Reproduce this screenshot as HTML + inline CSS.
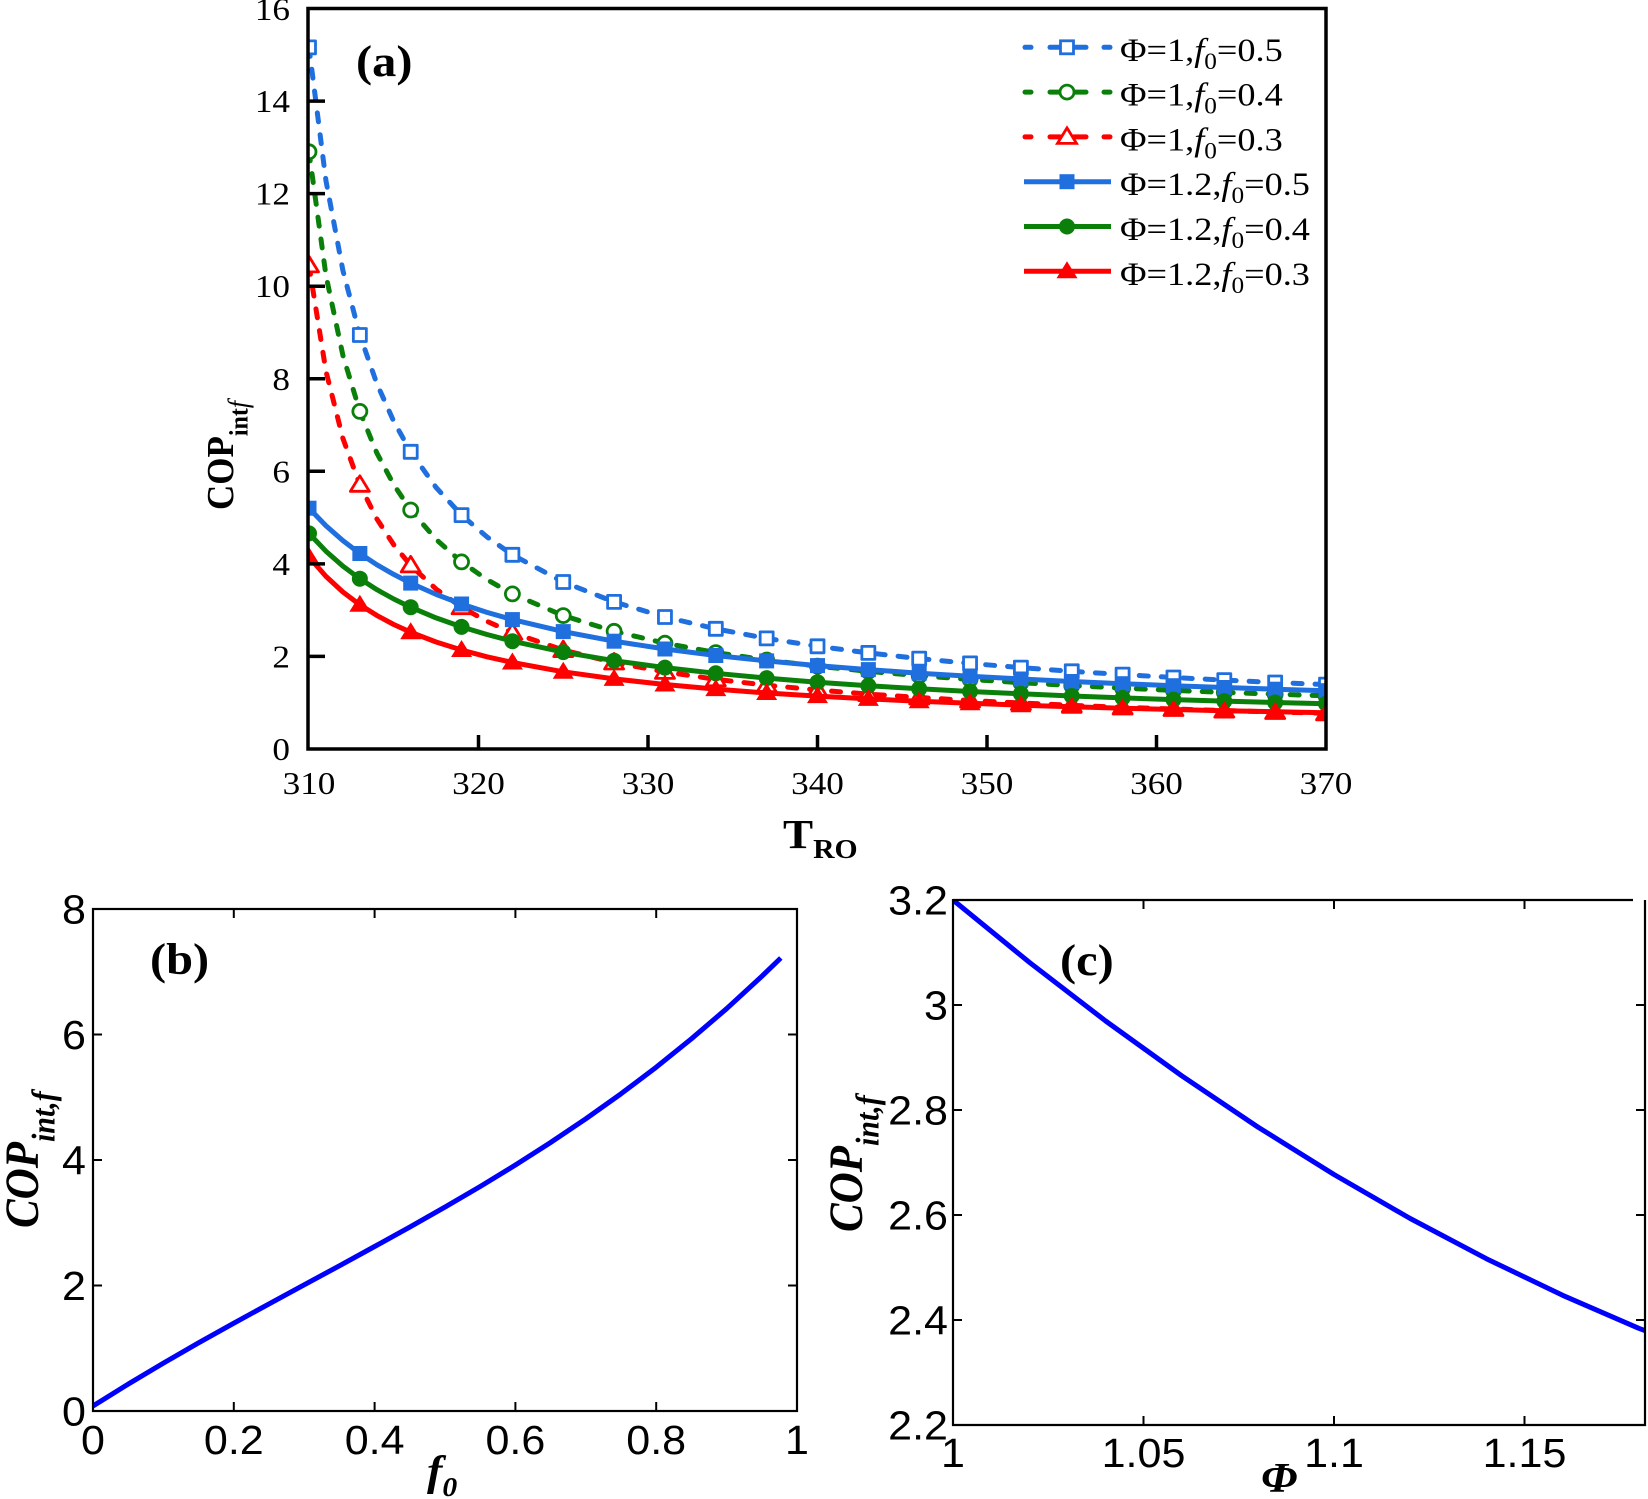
<!DOCTYPE html>
<html><head><meta charset="utf-8"><style>
html,body{margin:0;padding:0;background:#fff;}
svg{display:block;}
.tk{font-family:"Liberation Serif",serif;font-size:32px;fill:#000}
.lg{font-family:"Liberation Serif",serif;font-size:33px;fill:#000}
.sn{font-family:"Liberation Sans",sans-serif;font-size:41px;fill:#000}
.bs{font-family:"Liberation Serif",serif;font-weight:bold;fill:#000}
</style></head><body>
<svg width="1648" height="1499" viewBox="0 0 1648 1499" xmlns="http://www.w3.org/2000/svg">
<rect x="0" y="0" width="1648" height="1499" fill="#fff"/>
<defs>
<clipPath id="ca"><rect x="308" y="8.5" width="1018" height="740.5"/></clipPath>
<clipPath id="cb"><rect x="93" y="909" width="704" height="502"/></clipPath>
<clipPath id="cc"><rect x="953" y="900" width="692" height="525"/></clipPath>
<g id="sqO"><rect x="-6.5" y="-6.5" width="13" height="13" fill="#fff" stroke-width="2.8"/></g>
<g id="ciO"><circle cx="0" cy="0" r="7" fill="#fff" stroke-width="2.8"/></g>
<g id="trO"><polygon points="0,-9 9.5,6.5 -9.5,6.5" fill="#fff" stroke-width="2.8"/></g>
<g id="sqF"><rect x="-7.5" y="-7.5" width="15" height="15" stroke="none"/></g>
<g id="ciF"><circle cx="0" cy="0" r="8" stroke="none"/></g>
<g id="trF"><polygon points="0,-10 10.5,7 -10.5,7" stroke="none"/></g>
</defs>

<!-- ===== Panel (a) ===== -->
<g clip-path="url(#ca)" fill="none" stroke-width="5" stroke-linejoin="round">
<polyline stroke="#1f6fde" stroke-dasharray="9 13" stroke-linecap="round" points="309,47.4 325.95,180.7 342.9,270.5 359.85,335 376.8,383.5 393.75,421.4 410.7,451.8 436.1,487.5 461.55,515.1 486.98,536.9 512.4,554.8 563.25,582 614.1,601.9 664.95,617 715.8,628.8 766.65,638.4 817.5,646.3 868.35,652.9 919.2,658.6 970.05,663.4 1020.9,667.6 1071.75,671.3 1122.6,674.6 1173.45,677.5 1224.3,680.1 1275.15,682.5 1326,684.6"/>
<g stroke="#1f6fde">
<use href="#sqO" x="309" y="47.4"/><use href="#sqO" x="359.85" y="335"/><use href="#sqO" x="410.7" y="451.8"/><use href="#sqO" x="461.55" y="515.1"/><use href="#sqO" x="512.4" y="554.8"/><use href="#sqO" x="563.25" y="582"/><use href="#sqO" x="614.1" y="601.9"/><use href="#sqO" x="664.95" y="617"/><use href="#sqO" x="715.8" y="628.8"/><use href="#sqO" x="766.65" y="638.4"/><use href="#sqO" x="817.5" y="646.3"/><use href="#sqO" x="868.35" y="652.9"/><use href="#sqO" x="919.2" y="658.6"/><use href="#sqO" x="970.05" y="663.4"/><use href="#sqO" x="1020.9" y="667.6"/><use href="#sqO" x="1071.75" y="671.3"/><use href="#sqO" x="1122.6" y="674.6"/><use href="#sqO" x="1173.45" y="677.5"/><use href="#sqO" x="1224.3" y="680.1"/><use href="#sqO" x="1275.15" y="682.5"/><use href="#sqO" x="1326" y="684.6"/>
</g>
<polyline stroke="#0a800a" stroke-dasharray="9 13" stroke-linecap="round" points="309,151.8 325.95,275.4 342.9,355.4 359.85,411.4 376.8,452.9 393.75,484.7 410.7,510 436.1,539.4 461.55,561.9 486.98,579.6 512.4,593.9 563.25,615.6 614.1,631.3 664.95,643.2 715.8,652.6 766.65,660 817.5,666.2 868.35,671.3 919.2,675.7 970.05,679.4 1020.9,682.7 1071.75,685.6 1122.6,688.1 1173.45,690.4 1224.3,692.4 1275.15,694.2 1326,695.8"/>
<g stroke="#0a800a">
<use href="#ciO" x="309" y="151.8"/><use href="#ciO" x="359.85" y="411.4"/><use href="#ciO" x="410.7" y="510"/><use href="#ciO" x="461.55" y="561.9"/><use href="#ciO" x="512.4" y="593.9"/><use href="#ciO" x="563.25" y="615.6"/><use href="#ciO" x="614.1" y="631.3"/><use href="#ciO" x="664.95" y="643.2"/><use href="#ciO" x="715.8" y="652.6"/><use href="#ciO" x="766.65" y="660"/><use href="#ciO" x="817.5" y="666.2"/><use href="#ciO" x="868.35" y="671.3"/><use href="#ciO" x="919.2" y="675.7"/><use href="#ciO" x="970.05" y="679.4"/><use href="#ciO" x="1020.9" y="682.7"/><use href="#ciO" x="1071.75" y="685.6"/><use href="#ciO" x="1122.6" y="688.1"/><use href="#ciO" x="1173.45" y="690.4"/><use href="#ciO" x="1224.3" y="692.4"/><use href="#ciO" x="1275.15" y="694.2"/><use href="#ciO" x="1326" y="695.8"/>
</g>
<polyline stroke="#ff0000" stroke-dasharray="9 13" stroke-linecap="round" points="309,265.4 325.95,371.2 342.9,438.4 359.85,484.8 376.8,518.8 393.75,544.8 410.7,565.4 436.1,589.1 461.55,607.2 486.98,621.3 512.4,632.7 563.25,650.1 614.1,662.5 664.95,671.9 715.8,679.3 766.65,685.2 817.5,690 868.35,694.1 919.2,697.5 970.05,700.5 1020.9,703 1071.75,705.3 1122.6,707.3 1173.45,709 1224.3,710.6 1275.15,712 1326,713.3"/>
<g stroke="#ff0000">
<use href="#trO" x="309" y="265.4"/><use href="#trO" x="359.85" y="484.8"/><use href="#trO" x="410.7" y="565.4"/><use href="#trO" x="461.55" y="607.2"/><use href="#trO" x="512.4" y="632.7"/><use href="#trO" x="563.25" y="650.1"/><use href="#trO" x="614.1" y="662.5"/><use href="#trO" x="664.95" y="671.9"/><use href="#trO" x="715.8" y="679.3"/><use href="#trO" x="766.65" y="685.2"/><use href="#trO" x="817.5" y="690"/><use href="#trO" x="868.35" y="694.1"/><use href="#trO" x="919.2" y="697.5"/><use href="#trO" x="970.05" y="700.5"/><use href="#trO" x="1020.9" y="703"/><use href="#trO" x="1071.75" y="705.3"/><use href="#trO" x="1122.6" y="707.3"/><use href="#trO" x="1173.45" y="709"/><use href="#trO" x="1224.3" y="710.6"/><use href="#trO" x="1275.15" y="712"/><use href="#trO" x="1326" y="713.3"/>
</g>
<polyline stroke="#1f6fde" points="309,508.2 325.95,525.7 342.9,540.6 359.85,553.5 376.8,564.7 393.75,574.4 410.7,583.1 436.1,594.4 461.55,604 486.98,612.4 512.4,619.6 563.25,631.6 614.1,641.2 664.95,649 715.8,655.5 766.65,660.9 817.5,665.6 868.35,669.6 919.2,673.2 970.05,676.3 1020.9,679 1071.75,681.5 1122.6,683.7 1173.45,685.7 1224.3,687.5 1275.15,689.2 1326,690.7"/>
<g fill="#1f6fde">
<use href="#sqF" x="309" y="508.2"/><use href="#sqF" x="359.85" y="553.5"/><use href="#sqF" x="410.7" y="583.1"/><use href="#sqF" x="461.55" y="604"/><use href="#sqF" x="512.4" y="619.6"/><use href="#sqF" x="563.25" y="631.6"/><use href="#sqF" x="614.1" y="641.2"/><use href="#sqF" x="664.95" y="649"/><use href="#sqF" x="715.8" y="655.5"/><use href="#sqF" x="766.65" y="660.9"/><use href="#sqF" x="817.5" y="665.6"/><use href="#sqF" x="868.35" y="669.6"/><use href="#sqF" x="919.2" y="673.2"/><use href="#sqF" x="970.05" y="676.3"/><use href="#sqF" x="1020.9" y="679"/><use href="#sqF" x="1071.75" y="681.5"/><use href="#sqF" x="1122.6" y="683.7"/><use href="#sqF" x="1173.45" y="685.7"/><use href="#sqF" x="1224.3" y="687.5"/><use href="#sqF" x="1275.15" y="689.2"/><use href="#sqF" x="1326" y="690.7"/>
</g>
<polyline stroke="#0a800a" points="309,533.4 325.95,551.2 342.9,566.1 359.85,578.7 376.8,589.6 393.75,599 410.7,607.2 436.1,617.9 461.55,626.9 486.98,634.5 512.4,641.2 563.25,652.1 614.1,660.7 664.95,667.6 715.8,673.3 766.65,678.1 817.5,682.2 868.35,685.7 919.2,688.8 970.05,691.5 1020.9,693.8 1071.75,696 1122.6,697.9 1173.45,699.6 1224.3,701.1 1275.15,702.5 1326,703.8"/>
<g fill="#0a800a">
<use href="#ciF" x="309" y="533.4"/><use href="#ciF" x="359.85" y="578.7"/><use href="#ciF" x="410.7" y="607.2"/><use href="#ciF" x="461.55" y="626.9"/><use href="#ciF" x="512.4" y="641.2"/><use href="#ciF" x="563.25" y="652.1"/><use href="#ciF" x="614.1" y="660.7"/><use href="#ciF" x="664.95" y="667.6"/><use href="#ciF" x="715.8" y="673.3"/><use href="#ciF" x="766.65" y="678.1"/><use href="#ciF" x="817.5" y="682.2"/><use href="#ciF" x="868.35" y="685.7"/><use href="#ciF" x="919.2" y="688.8"/><use href="#ciF" x="970.05" y="691.5"/><use href="#ciF" x="1020.9" y="693.8"/><use href="#ciF" x="1071.75" y="696"/><use href="#ciF" x="1122.6" y="697.9"/><use href="#ciF" x="1173.45" y="699.6"/><use href="#ciF" x="1224.3" y="701.1"/><use href="#ciF" x="1275.15" y="702.5"/><use href="#ciF" x="1326" y="703.8"/>
</g>
<polyline stroke="#ff0000" points="309,557 325.95,576.4 342.9,592 359.85,604.8 376.8,615.4 393.75,624.5 410.7,632.2 436.1,642 461.55,650 486.98,656.8 512.4,662.5 563.25,671.8 614.1,678.9 664.95,684.5 715.8,689.1 766.65,693 817.5,696.1 868.35,698.9 919.2,701.3 970.05,703.3 1020.9,705.2 1071.75,706.8 1122.6,708.2 1173.45,709.5 1224.3,710.7 1275.15,711.7 1326,712.7"/>
<g fill="#ff0000">
<use href="#trF" x="309" y="557"/><use href="#trF" x="359.85" y="604.8"/><use href="#trF" x="410.7" y="632.2"/><use href="#trF" x="461.55" y="650"/><use href="#trF" x="512.4" y="662.5"/><use href="#trF" x="563.25" y="671.8"/><use href="#trF" x="614.1" y="678.9"/><use href="#trF" x="664.95" y="684.5"/><use href="#trF" x="715.8" y="689.1"/><use href="#trF" x="766.65" y="693"/><use href="#trF" x="817.5" y="696.1"/><use href="#trF" x="868.35" y="698.9"/><use href="#trF" x="919.2" y="701.3"/><use href="#trF" x="970.05" y="703.3"/><use href="#trF" x="1020.9" y="705.2"/><use href="#trF" x="1071.75" y="706.8"/><use href="#trF" x="1122.6" y="708.2"/><use href="#trF" x="1173.45" y="709.5"/><use href="#trF" x="1224.3" y="710.7"/><use href="#trF" x="1275.15" y="711.7"/><use href="#trF" x="1326" y="712.7"/>
</g>
</g>

<!-- axes (a) -->
<rect x="308" y="8.5" width="1018" height="740.5" fill="none" stroke="#000" stroke-width="3.5"/>
<g stroke="#000" stroke-width="3.5">
<line x1="308" y1="656.4" x2="325" y2="656.4"/><line x1="308" y1="563.9" x2="325" y2="563.9"/><line x1="308" y1="471.3" x2="325" y2="471.3"/><line x1="308" y1="378.8" x2="325" y2="378.8"/><line x1="308" y1="286.2" x2="325" y2="286.2"/><line x1="308" y1="193.6" x2="325" y2="193.6"/><line x1="308" y1="101.1" x2="325" y2="101.1"/>
<line x1="478.5" y1="749" x2="478.5" y2="735"/><line x1="648" y1="749" x2="648" y2="735"/><line x1="817.5" y1="749" x2="817.5" y2="735"/><line x1="987" y1="749" x2="987" y2="735"/><line x1="1156.5" y1="749" x2="1156.5" y2="735"/>
</g>
<g class="tk" text-anchor="end">
<text transform="translate(290,760) scale(1.1,1)">0</text>
<text transform="translate(290,667.4) scale(1.1,1)">2</text>
<text transform="translate(290,574.9) scale(1.1,1)">4</text>
<text transform="translate(290,482.3) scale(1.1,1)">6</text>
<text transform="translate(290,389.8) scale(1.1,1)">8</text>
<text transform="translate(290,297.2) scale(1.1,1)">10</text>
<text transform="translate(290,204.6) scale(1.1,1)">12</text>
<text transform="translate(290,112.1) scale(1.1,1)">14</text>
<text transform="translate(290,20) scale(1.1,1)">16</text>
</g>
<g class="tk" text-anchor="middle">
<text transform="translate(309,794) scale(1.1,1)">310</text>
<text transform="translate(478.5,794) scale(1.1,1)">320</text>
<text transform="translate(648,794) scale(1.1,1)">330</text>
<text transform="translate(817.5,794) scale(1.1,1)">340</text>
<text transform="translate(987,794) scale(1.1,1)">350</text>
<text transform="translate(1156.5,794) scale(1.1,1)">360</text>
<text transform="translate(1326,794) scale(1.1,1)">370</text>
</g>
<text class="bs" font-size="41" transform="translate(783,848) scale(1.1,1)">T<tspan font-size="27" dy="10">RO</tspan></text>
<text class="bs" font-size="35" transform="translate(233,510) scale(1.1,1) rotate(-90)">COP<tspan font-size="24" dy="13">int</tspan><tspan font-size="26" font-style="italic" font-weight="normal">f</tspan></text>
<text class="bs" font-size="44" transform="translate(356,76) scale(1.1,1)">(a)</text>

<!-- legend -->
<g stroke-width="5" stroke-linecap="round" fill="none">
<g stroke="#1f6fde"><line x1="1025" y1="47.3" x2="1031" y2="47.3"/><line x1="1050" y1="47.3" x2="1060" y2="47.3"/><line x1="1074" y1="47.3" x2="1086" y2="47.3"/><line x1="1104" y1="47.3" x2="1110" y2="47.3"/><use href="#sqO" x="1067" y="47.3"/></g>
<g stroke="#0a800a"><line x1="1025" y1="92.1" x2="1031" y2="92.1"/><line x1="1050" y1="92.1" x2="1060" y2="92.1"/><line x1="1074" y1="92.1" x2="1086" y2="92.1"/><line x1="1104" y1="92.1" x2="1110" y2="92.1"/><use href="#ciO" x="1067" y="92.1"/></g>
<g stroke="#ff0000"><line x1="1025" y1="136.9" x2="1031" y2="136.9"/><line x1="1050" y1="136.9" x2="1060" y2="136.9"/><line x1="1074" y1="136.9" x2="1086" y2="136.9"/><line x1="1104" y1="136.9" x2="1110" y2="136.9"/><use href="#trO" x="1067" y="136.9"/></g>
<line x1="1024" y1="181.7" x2="1111" y2="181.7" stroke="#1f6fde" stroke-linecap="butt"/>
<use href="#sqF" x="1067" y="181.7" fill="#1f6fde"/>
<line x1="1024" y1="226.5" x2="1111" y2="226.5" stroke="#0a800a" stroke-linecap="butt"/>
<use href="#ciF" x="1067" y="226.5" fill="#0a800a"/>
<line x1="1024" y1="271.3" x2="1111" y2="271.3" stroke="#ff0000" stroke-linecap="butt"/>
<use href="#trF" x="1067" y="271.3" fill="#ff0000"/>
</g>
<g class="lg">
<text transform="translate(1120,60.8) scale(1.1,1)">Φ=1,<tspan font-style="italic">f</tspan><tspan font-size="23" dy="8">0</tspan><tspan dy="-8">=0.5</tspan></text>
<text transform="translate(1120,105.6) scale(1.1,1)">Φ=1,<tspan font-style="italic">f</tspan><tspan font-size="23" dy="8">0</tspan><tspan dy="-8">=0.4</tspan></text>
<text transform="translate(1120,150.4) scale(1.1,1)">Φ=1,<tspan font-style="italic">f</tspan><tspan font-size="23" dy="8">0</tspan><tspan dy="-8">=0.3</tspan></text>
<text transform="translate(1120,195.2) scale(1.1,1)">Φ=1.2,<tspan font-style="italic">f</tspan><tspan font-size="23" dy="8">0</tspan><tspan dy="-8">=0.5</tspan></text>
<text transform="translate(1120,240) scale(1.1,1)">Φ=1.2,<tspan font-style="italic">f</tspan><tspan font-size="23" dy="8">0</tspan><tspan dy="-8">=0.4</tspan></text>
<text transform="translate(1120,284.8) scale(1.1,1)">Φ=1.2,<tspan font-style="italic">f</tspan><tspan font-size="23" dy="8">0</tspan><tspan dy="-8">=0.3</tspan></text>
</g>

<!-- ===== Panel (b) ===== -->
<polyline clip-path="url(#cb)" fill="none" stroke="#0000ff" stroke-width="5" stroke-linejoin="round" points="93,1406 128.2,1384.1 163.4,1363.1 198.6,1342.8 233.8,1323.2 269,1303.9 304.2,1284.8 339.4,1265.8 374.6,1246.5 409.8,1227.1 445,1207.1 480.2,1186.5 515.4,1165 550.6,1142.5 585.8,1118.8 621,1093.8 656.2,1067.2 691.4,1038.8 726.6,1008.7 761.8,976.3 780.8,958"/>
<rect x="93" y="909" width="704" height="502" fill="none" stroke="#000" stroke-width="2.2"/>
<g stroke="#000" stroke-width="2">
<line x1="93" y1="1285.5" x2="102" y2="1285.5"/><line x1="93" y1="1160" x2="102" y2="1160"/><line x1="93" y1="1034.5" x2="102" y2="1034.5"/>
<line x1="797" y1="1285.5" x2="788" y2="1285.5"/><line x1="797" y1="1160" x2="788" y2="1160"/><line x1="797" y1="1034.5" x2="788" y2="1034.5"/>
<line x1="233.8" y1="1411" x2="233.8" y2="1402"/><line x1="374.6" y1="1411" x2="374.6" y2="1402"/><line x1="515.4" y1="1411" x2="515.4" y2="1402"/><line x1="656.2" y1="1411" x2="656.2" y2="1402"/>
<line x1="233.8" y1="909" x2="233.8" y2="918"/><line x1="374.6" y1="909" x2="374.6" y2="918"/><line x1="515.4" y1="909" x2="515.4" y2="918"/><line x1="656.2" y1="909" x2="656.2" y2="918"/>
</g>
<g class="sn" text-anchor="end">
<text transform="translate(86,1425.5) scale(1.05,1)">0</text>
<text transform="translate(86,1300) scale(1.05,1)">2</text>
<text transform="translate(86,1174.5) scale(1.05,1)">4</text>
<text transform="translate(86,1049) scale(1.05,1)">6</text>
<text transform="translate(86,923.5) scale(1.05,1)">8</text>
</g>
<g class="sn" text-anchor="middle">
<text transform="translate(93,1454) scale(1.05,1)">0</text>
<text transform="translate(233.8,1454) scale(1.05,1)">0.2</text>
<text transform="translate(374.6,1454) scale(1.05,1)">0.4</text>
<text transform="translate(515.4,1454) scale(1.05,1)">0.6</text>
<text transform="translate(656.2,1454) scale(1.05,1)">0.8</text>
<text transform="translate(797,1454) scale(1.05,1)">1</text>
</g>
<text class="bs" font-size="44" transform="translate(150,974) scale(1.1,1)">(b)</text>
<text class="bs" font-size="43" font-style="italic" transform="translate(38,1228) scale(1.1,1) rotate(-90)">COP<tspan font-size="30" dy="15">int,f</tspan></text>
<text class="bs" font-size="42" font-style="italic" transform="translate(427,1485) scale(1.1,1)">f<tspan font-size="27" dy="11">0</tspan></text>

<!-- ===== Panel (c) ===== -->
<polyline clip-path="url(#cc)" fill="none" stroke="#0000ff" stroke-width="5" stroke-linejoin="round" points="953,900 1029.2,962.2 1105.4,1020.8 1181.6,1075.7 1257.8,1127 1334,1174.5 1410.2,1218.5 1486.4,1258.7 1562.6,1295.3 1638.8,1328.3 1646,1331"/>
<g stroke="#000" stroke-width="2.2" fill="none">
<line x1="953" y1="900" x2="1633" y2="900"/>
<line x1="953" y1="899" x2="953" y2="1426"/>
<line x1="952" y1="1425" x2="1646" y2="1425"/>
<line x1="1645" y1="900" x2="1645" y2="1426"/>
</g>
<g stroke="#000" stroke-width="2">
<line x1="953" y1="1005" x2="962" y2="1005"/><line x1="953" y1="1110" x2="962" y2="1110"/><line x1="953" y1="1215" x2="962" y2="1215"/><line x1="953" y1="1320" x2="962" y2="1320"/>
<line x1="1645" y1="1005" x2="1636" y2="1005"/><line x1="1645" y1="1110" x2="1636" y2="1110"/><line x1="1645" y1="1215" x2="1636" y2="1215"/><line x1="1645" y1="1320" x2="1636" y2="1320"/>
<line x1="1143.5" y1="1425" x2="1143.5" y2="1416"/><line x1="1334" y1="1425" x2="1334" y2="1416"/><line x1="1524.5" y1="1425" x2="1524.5" y2="1416"/>
<line x1="1143.5" y1="900" x2="1143.5" y2="909"/><line x1="1334" y1="900" x2="1334" y2="909"/><line x1="1524.5" y1="900" x2="1524.5" y2="909"/>
</g>
<g class="sn" text-anchor="end">
<text transform="translate(948,1439.5) scale(1.05,1)">2.2</text>
<text transform="translate(948,1334.5) scale(1.05,1)">2.4</text>
<text transform="translate(948,1229.5) scale(1.05,1)">2.6</text>
<text transform="translate(948,1124.5) scale(1.05,1)">2.8</text>
<text transform="translate(948,1019.5) scale(1.05,1)">3</text>
<text transform="translate(948,914.5) scale(1.05,1)">3.2</text>
</g>
<g class="sn" text-anchor="middle">
<text transform="translate(953,1467) scale(1.05,1)">1</text>
<text transform="translate(1143.5,1467) scale(1.05,1)">1.05</text>
<text transform="translate(1334,1467) scale(1.05,1)">1.1</text>
<text transform="translate(1524.5,1467) scale(1.05,1)">1.15</text>
</g>
<text class="bs" font-size="44" transform="translate(1060,975) scale(1.1,1)">(c)</text>
<text class="bs" font-size="43" font-style="italic" transform="translate(862,1232) scale(1.1,1) rotate(-90)">COP<tspan font-size="30" dy="15">int,f</tspan></text>
<text class="bs" font-size="42" font-style="italic" transform="translate(1261,1492) scale(1.1,1)">Φ</text>
</svg>
</body></html>
